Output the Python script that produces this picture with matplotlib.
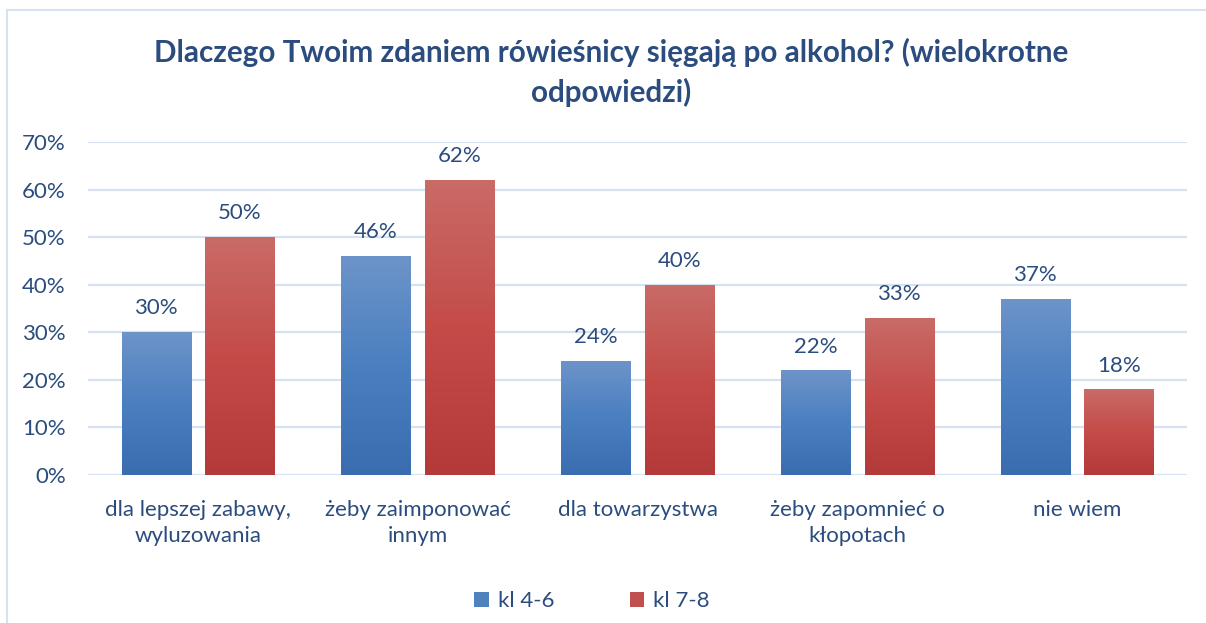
import matplotlib
matplotlib.use("Agg")
import matplotlib.pyplot as plt
import numpy as np
from matplotlib.colors import LinearSegmentedColormap
from matplotlib.patches import Patch

categories = ["dla lepszej zabawy,\nwyluzowania", "żeby zaimponować\ninnym", "dla towarzystwa",
              "żeby zapomnieć o\nkłopotach", "nie wiem"]
series_names = ["kl 4-6", "kl 7-8"]
kl46 = [30, 46, 24, 22, 37]
kl78 = [50, 62, 40, 33, 18]
yticks = [0, 10, 20, 30, 40, 50, 60, 70]
title = "Dlaczego Twoim zdaniem rówieśnicy sięgają po alkohol? (wielokrotne\nodpowiedzi)"

plt.rcParams['font.family'] = ['Lato', 'DejaVu Sans']
txt = "#2B4C7E"
grid_c = "#D6E1F1"

fig = plt.figure(figsize=(12.06, 6.23), dpi=100)
ax = fig.add_axes([88/1206, 1-475/623, (1187-88)/1206, (475-142)/623])

x = np.arange(len(categories))
w = 0.314
off = 0.19
cmaps = [LinearSegmentedColormap.from_list("b", ["#3A6DB0", "#4A7FC0", "#6D94C9"]),
         LinearSegmentedColormap.from_list("r", ["#B33A38", "#C44B48", "#C96B67"])]
solid = ["#4F81BD", "#C0504D"]
grad = np.linspace(0, 1, 256).reshape(-1, 1)
for i, vals in enumerate([kl46, kl78]):
    bars = ax.bar(x + (i * 2 - 1) * off, vals, w, color="none", zorder=3)
    for b, v in zip(bars, vals):
        x0, y0 = b.get_x(), b.get_y()
        im = ax.imshow(grad, extent=[x0, x0 + b.get_width(), y0, y0 + b.get_height()],
                       origin="lower", cmap=cmaps[i], aspect="auto", zorder=3)
        im.set_clip_path(b)
        ax.text(b.get_x() + b.get_width() / 2, v + 5.0, f"{v}%", ha="center", va="center",
                fontsize=16, color=txt, zorder=4)

ax.set_xlim(-0.5, len(categories) - 0.5)
ax.set_ylim(0, 70)
ax.set_yticks(yticks)
ax.set_yticklabels([f"{t}%" for t in yticks], fontsize=16, color=txt)
ax.set_xticks(x)
ax.set_xticklabels(categories, fontsize=16, color=txt, linespacing=1.4)
ax.tick_params(length=0)
ax.tick_params(axis='y', pad=16)
ax.tick_params(axis='x', pad=18)
ax.grid(axis='y', color=grid_c, linewidth=1.6, zorder=0)
ax.set_axisbelow(True)
for s in ax.spines.values():
    s.set_visible(False)

fig.text(611/1206, 1-72/623, title, ha="center", va="center", fontsize=21.3,
         fontweight="bold", color=txt, linespacing=1.45)

handles = [Patch(facecolor=solid[0]), Patch(facecolor=solid[1])]
fig.legend(handles, series_names, loc="center", bbox_to_anchor=(592/1206, 1-601/623),
           ncol=2, frameon=False, fontsize=16, labelcolor=txt, handlelength=0.65,
           handleheight=0.65, handletextpad=0.4, columnspacing=3.4)

# chart border (left and top)
fig.add_artist(plt.Line2D([7/1206, 7/1206], [0, 1-10/623], transform=fig.transFigure,
                          color=grid_c, linewidth=1.5))
fig.add_artist(plt.Line2D([7/1206, 1], [1-10/623, 1-10/623], transform=fig.transFigure,
                          color=grid_c, linewidth=1.5))

fig.savefig("out.png", dpi=100)
